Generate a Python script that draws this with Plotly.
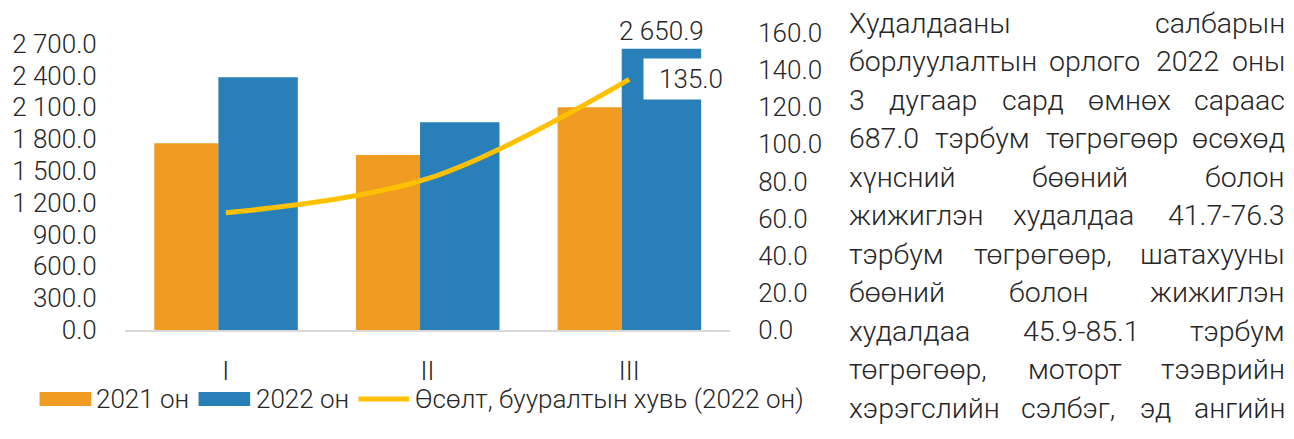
import plotly.graph_objects as go

# ---------------- data ----------------
categories = ["I", "II", "III"]
sales_2021 = [1760.0, 1650.0, 2100.0]
sales_2022 = [2382.0, 1958.0, 2650.9]
growth_2022 = [63.2, 81.5, 135.0]

left_tickvals = [0, 300, 600, 900, 1200, 1500, 1800, 2100, 2400, 2700]
left_ticktext = ["0.0", "300.0", "600.0", "900.0", "1 200.0", "1 500.0",
                 "1 800.0", "2 100.0", "2 400.0", "2 700.0"]
right_tickvals = [0, 20, 40, 60, 80, 100, 120, 140, 160]
right_ticktext = ["0.0", "20.0", "40.0", "60.0", "80.0", "100.0",
                  "120.0", "140.0", "160.0"]

legend_names = ["2021 он", "2022 он", "Өсөлт, бууралтын хувь (2022 он)"]

paragraph_lines = [
    "Худалдааны салбарын",
    "борлуулалтын орлого 2022 оны",
    "3 дугаар сард өмнөх сараас",
    "687.0 тэрбум төгрөгөөр өсөхөд",
    "хүнсний бөөний болон",
    "жижиглэн худалдаа 41.7-76.3",
    "тэрбум төгрөгөөр, шатахууны",
    "бөөний болон жижиглэн",
    "худалдаа 45.9-85.1 тэрбум",
    "төгрөгөөр, моторт тээврийн",
    "хэрэгслийн сэлбэг, эд ангийн",
]

# ---------------- style ----------------
ORANGE = "#F09B22"
BLUE = "#2980B9"
YELLOW = "#FFC000"
TXT = "#262626"
FONT = "Roboto"
W_PX, H_PX = 1294, 439
L, R, T, B = 121, 730, 33, 330   # plot area in pixels


def fmt(v):
    return f"{v:,.1f}".replace(",", " ")


def px_x(px):
    return (px - L) / (R - L)


def px_y(py):
    return (B - py) / (B - T)


fig = go.Figure()

fig.add_trace(go.Bar(
    x=categories, y=sales_2021, name=legend_names[0],
    marker=dict(color=ORANGE, line=dict(width=0)),
    width=0.318, offset=-0.355, showlegend=False,
))
fig.add_trace(go.Bar(
    x=categories, y=sales_2022, name=legend_names[1],
    marker=dict(color=BLUE, line=dict(width=0)),
    width=0.394, offset=-0.037, showlegend=False,
    text=[fmt(v) if i == len(sales_2022) - 1 else "" for i, v in enumerate(sales_2022)],
    textposition="outside", constraintext="none", cliponaxis=False,
    textfont=dict(family=FONT, size=26, color=TXT, weight=300),
))
fig.add_trace(go.Scatter(
    x=categories, y=growth_2022, name=legend_names[2], yaxis="y2",
    mode="lines", line=dict(color=YELLOW, width=5, shape="spline", smoothing=1.0),
    showlegend=False,
))

annotations = []
# value label of the line's last point
annotations.append(dict(
    x=categories[-1], y=growth_2022[-1], xref="x", yref="y2",
    text=fmt(growth_2022[-1]), showarrow=False, xanchor="left", yanchor="middle",
    xshift=14, bgcolor="white", borderpad=7, width=80, height=26, align="center",
    font=dict(family=FONT, size=26, color=TXT, weight=300),
))

# custom legend
shapes = []
leg_y = 399
shapes.append(dict(type="rect", xref="paper", yref="paper",
                   x0=px_x(35), x1=px_x(87), y0=px_y(406), y1=px_y(392),
                   fillcolor=ORANGE, line=dict(width=0)))
shapes.append(dict(type="rect", xref="paper", yref="paper",
                   x0=px_x(195), x1=px_x(247), y0=px_y(406), y1=px_y(392),
                   fillcolor=BLUE, line=dict(width=0)))
shapes.append(dict(type="line", xref="paper", yref="paper",
                   x0=px_x(356), x1=px_x(407), y0=px_y(leg_y), y1=px_y(leg_y),
                   line=dict(color=YELLOW, width=5)))
for name, xpx in zip(legend_names, [91, 252, 412]):
    annotations.append(dict(
        x=px_x(xpx), y=px_y(leg_y), xref="paper", yref="paper", text=name,
        showarrow=False, xanchor="left", yanchor="middle", borderpad=0,
        font=dict(family=FONT, size=26, color=TXT, weight=300),
    ))

# justified paragraph on the right
CW = {'а': .531, 'б': .551, 'в': .538, 'г': .375, 'д': .576, 'е': .517, 'ж': .75,
      'з': .504, 'и': .552, 'й': .552, 'к': .514, 'л': .55, 'м': .69, 'н': .552,
      'о': .557, 'п': .552, 'р': .561, 'с': .523, 'т': .49, 'у': .473, 'х': .495,
      'ш': .742, 'ы': .68, 'ь': .518, 'э': .51, 'ө': .557, 'ү': .473, 'Х': .629,
      '.': .263, ',': .196, '-': .276}
PFS = 28.5
P_LEFT, P_RIGHT = 849, 1290
for i, line in enumerate(paragraph_lines):
    base = 33 + 38.5 * i
    ymid = base - 0.345 * PFS
    words = line.split(" ")
    widths = [sum(CW.get(c, .5615) for c in w) * PFS for w in words]
    gap = (P_RIGHT - P_LEFT - sum(widths)) / (len(words) - 1)
    xcur = P_LEFT
    for j, (w, wd) in enumerate(zip(words, widths)):
        if j == 0:
            xa, xp = "left", P_LEFT
        elif j == len(words) - 1:
            xa, xp = "right", P_RIGHT
        else:
            xa, xp = "center", xcur + wd / 2
        annotations.append(dict(
            x=px_x(xp), y=px_y(ymid), xref="paper", yref="paper", text=w,
            showarrow=False, xanchor=xa, yanchor="middle", borderpad=0,
            font=dict(family=FONT, size=PFS, color=TXT, weight=300),
        ))
        xcur += wd + gap

fig.update_layout(
    width=W_PX, height=H_PX, autosize=False,
    margin=dict(l=L, r=W_PX - R, t=T, b=H_PX - B, pad=0),
    paper_bgcolor="white", plot_bgcolor="white",
    barmode="overlay", showlegend=False,
    font=dict(family=FONT, size=26, color=TXT, weight=300),
    xaxis=dict(
        type="category", range=[-0.5, 2.5], showgrid=False, zeroline=False,
        showline=True, linecolor="#D9D9D9", linewidth=2,
        ticks="outside", ticklen=17, tickcolor="rgba(0,0,0,0)",
        tickfont=dict(family=FONT, size=26, color=TXT, weight=300),
    ),
    yaxis=dict(
        range=[0, 2800], tickvals=left_tickvals, ticktext=left_ticktext,
        showgrid=False, zeroline=False, showline=False,
        ticks="outside", ticklen=22, tickcolor="rgba(0,0,0,0)",
        tickfont=dict(family=FONT, size=26, color=TXT, weight=300),
    ),
    yaxis2=dict(
        range=[0, 160], tickvals=right_tickvals, ticktext=right_ticktext,
        overlaying="y", side="right", showgrid=False, zeroline=False, showline=False,
        ticks="outside", ticklen=22, tickcolor="rgba(0,0,0,0)",
        tickfont=dict(family=FONT, size=26, color=TXT, weight=300),
    ),
    annotations=annotations,
    shapes=shapes,
)

fig.write_html("out.html", config={"displayModeBar": False},
               post_script="document.body.style.margin='0';")
